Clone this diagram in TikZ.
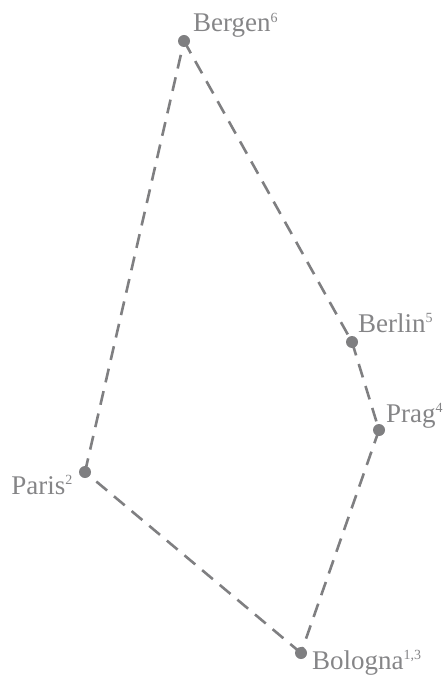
\documentclass[tikz,border=0pt]{standalone}
\usepackage{fontspec}
\setmainfont{Liberation Serif}
\usepackage{xcolor}
\usetikzlibrary{positioning}
\definecolor{routec}{HTML}{7F7F81}
\definecolor{townc}{HTML}{858587}
\newcommand{\sidx}[1]{\textsuperscript{\fontsize{14}{14}\selectfont #1}}
\tikzset{
  town/.style={circle,fill=routec,inner sep=0pt,minimum size=12pt},
  tname/.style={inner sep=0pt,text=townc,font=\fontsize{27}{30}\selectfont},
  route/.style={routec,line width=2.6pt,dash pattern=on 14pt off 9pt}
}
\begin{document}
\begin{tikzpicture}[x=1pt,y=-1pt]
\useasboundingbox (0,0) rectangle (443,676);
\node[town] (bergen) at (184,41) {};
\node[town] (berlin) at (352,342) {};
\node[town] (prag) at (379,430) {};
\node[town] (paris) at (85,472) {};
\node[town] (bologna) at (301,653) {};
\draw[route] (bergen.center) -- (berlin.center);
\draw[route] (berlin.center) -- (prag.center);
\draw[route] (prag.center) -- (bologna.center);
\draw[route] (bologna.center) -- (paris.center);
\draw[route] (paris.center) -- (bergen.center);
\node[tname,anchor=base west] (bergenlbl) at (193,32) {Bergen\sidx{6}};
\node[tname,anchor=base west] (berlinlbl) at (358,332) {Berlin\sidx{5}};
\node[tname,anchor=base west] (praglbl) at (386,422) {Prag\sidx{4}};
\node[tname,anchor=base east] (parislbl) at (73,494) {Paris\sidx{2}};
\node[tname,anchor=base west] (bolognalbl) at (312,669) {Bologna\sidx{1,3}};
\end{tikzpicture}
\end{document}
